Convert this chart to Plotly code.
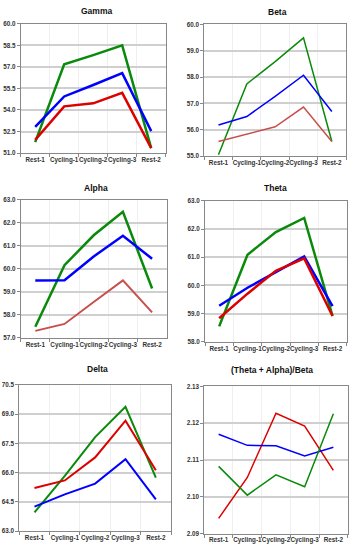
import plotly.graph_objects as go

categories = ["Rest-1", "Cycling-1", "Cycling-2", "Cycling-3", "Rest-2"]

gamma_green = [51.76, 57.18, 57.82, 58.50, 51.34]
gamma_blue = [52.83, 54.94, 55.74, 56.56, 52.53]
gamma_red = [51.92, 54.25, 54.46, 55.19, 51.34]

beta_green = [55.05, 57.74, 58.59, 59.49, 55.55]
beta_blue = [56.18, 56.50, 57.27, 58.07, 56.69]
beta_red = [55.55, 55.84, 56.11, 56.86, 55.55]

alpha_green = [57.49, 60.16, 61.46, 62.48, 59.15]
alpha_blue = [59.50, 59.51, 60.54, 61.44, 60.44]
alpha_red = [57.31, 57.61, 58.56, 59.50, 58.11]

theta_green = [58.55, 61.09, 61.89, 62.39, 58.92]
theta_blue = [59.28, 59.92, 60.47, 61.03, 59.27]
theta_red = [58.84, 59.71, 60.52, 60.96, 58.92]

delta_green = [63.96, 65.83, 67.82, 69.37, 65.75]
delta_red = [65.21, 65.60, 66.78, 68.66, 66.12]
delta_blue = [64.26, 64.89, 65.44, 66.69, 64.63]

ratio_red = [2.0942, 2.1053, 2.1227, 2.1192, 2.1072]
ratio_blue = [2.1170, 2.1140, 2.1139, 2.1111, 2.1135]
ratio_green = [2.1083, 2.1005, 2.1060, 2.1028, 2.1226]

gamma_ticks = [51.0, 52.5, 54.0, 55.5, 57.0, 58.5, 60.0]
beta_ticks = [55.0, 56.0, 57.0, 58.0, 59.0, 60.0]
alpha_ticks = [57.0, 58.0, 59.0, 60.0, 61.0, 62.0, 63.0]
theta_ticks = [58.0, 59.0, 60.0, 61.0, 62.0, 63.0]
delta_ticks = [63.0, 64.5, 66.0, 67.5, 69.0, 70.5]
ratio_ticks = [2.09, 2.10, 2.11, 2.12, 2.13]

W, H = 350, 550
GREEN = "#0a8a0a"
BLUE = "#0000ff"
RED = "#dd0000"
LRED = "#c8504c"

panels = [
    ("Gamma", [(gamma_green, GREEN, 2.5), (gamma_blue, BLUE, 2.5), (gamma_red, RED, 2.5)],
     gamma_ticks, "{:.1f}", 20.7, 165.7, 20, 151, 96, 7),
    ("Beta", [(beta_green, GREEN, 1.5), (beta_blue, BLUE, 1.5), (beta_red, LRED, 1.5)],
     beta_ticks, "{:.1f}", 204.3, 346, 20.7, 154, 277, 8),
    ("Alpha", [(alpha_green, GREEN, 2.5), (alpha_blue, BLUE, 2.5), (alpha_red, LRED, 2)],
     alpha_ticks, "{:.1f}", 20.7, 166.7, 198.3, 338.3, 96, 186),
    ("Theta", [(theta_green, GREEN, 2.5), (theta_blue, BLUE, 2.5), (theta_red, RED, 2.5)],
     theta_ticks, "{:.1f}", 205, 346.7, 199.3, 342.3, 275, 186),
    ("Delta", [(delta_green, GREEN, 2), (delta_red, RED, 2), (delta_blue, BLUE, 2)],
     delta_ticks, "{:.1f}", 19.3, 171, 385.7, 534, 97, 370),
    ("(Theta + Alpha)/Beta", [(ratio_red, RED, 1.5), (ratio_blue, BLUE, 1.5), (ratio_green, GREEN, 1.5)],
     ratio_ticks, "{:.2f}", 204.3, 347.7, 387.3, 536.7, 272, 371),
]

fig = go.Figure()
annotations = []
FONT = "Liberation Sans"
TICKFONT = dict(family=FONT, size=6.3, color="#333", weight="bold")
for i, (title, series, ticks, fmt, x0, x1, y0, y1, tx, ty) in enumerate(panels):
    n = i + 1
    xa = "x" if n == 1 else f"x{n}"
    ya = "y" if n == 1 else f"y{n}"
    for vals, color, width in series:
        fig.add_trace(go.Scatter(x=categories, y=vals, mode="lines",
                                 line=dict(color=color, width=width),
                                 xaxis=xa, yaxis=ya, showlegend=False,
                                 hoverinfo="skip"))
    xkey = "xaxis" if n == 1 else f"xaxis{n}"
    ykey = "yaxis" if n == 1 else f"yaxis{n}"
    fig.layout[xkey] = dict(
        domain=[x0 / W, x1 / W], anchor=ya, type="category",
        categoryorder="array", categoryarray=categories,
        range=[-0.5, 4.5], tickson="boundaries", ticks="outside", ticklen=3,
        tickcolor="#888", showgrid=True, gridcolor="#efefef", gridwidth=1,
        showline=True, linecolor="#888", linewidth=1, mirror=True,
        tickangle=0, tickfont=TICKFONT,
        fixedrange=True,
    )
    fig.layout[ykey] = dict(
        domain=[1 - y1 / H, 1 - y0 / H], anchor=xa,
        range=[ticks[0], ticks[-1]], tickmode="array", tickvals=ticks,
        ticktext=[fmt.format(t) for t in ticks],
        ticks="outside", ticklen=3, tickcolor="#888",
        showgrid=True, gridcolor="#cfcfcf", gridwidth=1.5,
        showline=True, linecolor="#888", linewidth=1, mirror=True,
        zeroline=False, tickfont=TICKFONT,
        fixedrange=True,
    )
    annotations.append(dict(text=f"<b>{title}</b>", x=tx / W, y=1 - ty / H,
                            xref="paper", yref="paper", xanchor="center",
                            yanchor="middle", showarrow=False,
                            font=dict(family=FONT, size=8.5, color="#111")))

fig.update_layout(
    width=W, height=H, margin=dict(l=0, r=0, t=0, b=0),
    paper_bgcolor="white", plot_bgcolor="white",
    annotations=annotations, showlegend=False,
)

fig.write_html("out.html", config={"displayModeBar": False},
               post_script="document.body.style.margin='0';document.body.style.overflow='hidden';")
